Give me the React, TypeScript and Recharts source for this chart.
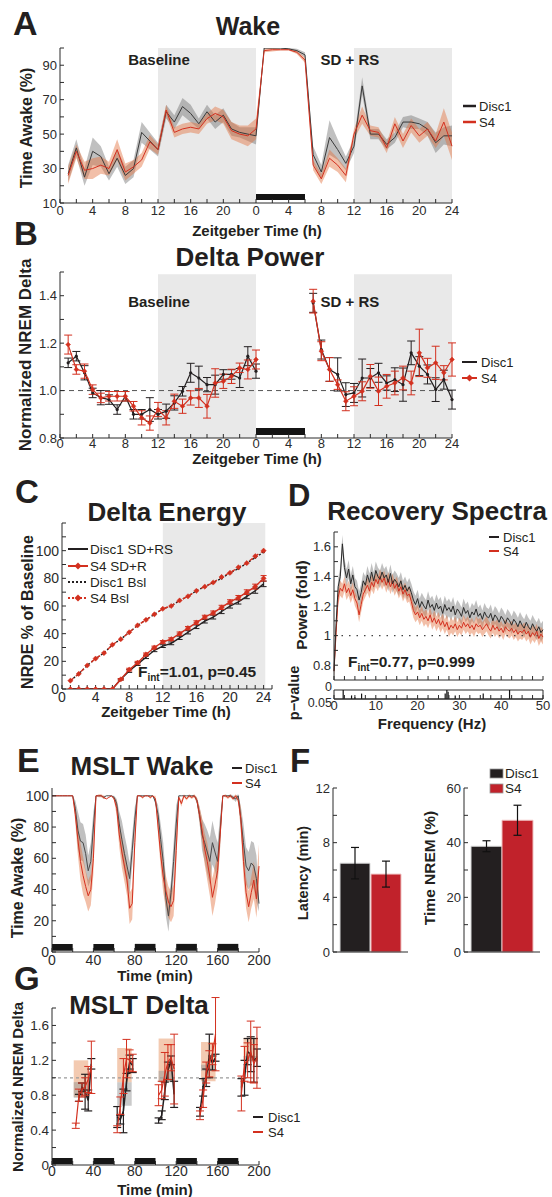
import React from 'react'
import {
	ComposedChart,
	BarChart,
	Line,
	Area,
	Bar,
	XAxis,
	YAxis,
	ReferenceArea,
	ReferenceLine,
	ErrorBar,
} from 'recharts'

const FONT = '"Liberation Sans", Arial, Helvetica, sans-serif'
const INK = '#231f20'
const RED = '#d3301f'
const BAR_RED = '#c1222b'
const GRAY_BAND = 'rgba(105,105,105,0.42)'
const RED_BAND = 'rgba(226,112,62,0.45)'
const SHADE = '#e9e9e9'

// ---------- A: Wake (% time awake per hour; baseline day, then SD + RS day)
const wakeDisc1 = [
	27, 42, 25, 40, 37, 27, 36, 26, 30, 51, 46, 41, 63, 57, 66, 62, 56, 63, 57, 61, 53, 51, 50, 49,
	100, 100, 100, 99.5, 98.5, 96, 38, 28, 48, 41, 33, 43, 78, 50, 50, 44, 48, 57, 57, 56, 53, 45, 49, 49,
]
const wakeDisc1Sem = [
	5, 5, 5, 8, 6, 4, 5, 5, 5, 6, 5, 4, 4, 4, 5, 5, 3, 4, 4, 4, 4, 3, 4, 5,
	0.5, 0.5, 0.5, 0.5, 1, 1.5, 5, 4, 10, 6, 4, 4, 5, 3, 3, 3, 3, 3, 4, 3, 4, 6, 5, 6,
]
const wakeS4 = [
	26, 40, 29, 30, 32, 30, 41, 28, 31, 35, 45.5, 41, 64, 51, 53, 54, 53, 59, 62, 60, 52, 50, 49, 53,
	98.5, 99, 99, 99, 97.5, 93, 32, 24, 36, 32, 26, 50, 61, 52, 51, 42, 56, 46, 55, 49, 53, 46, 57, 43,
]
const wakeS4Sem = [
	5, 4, 5, 6, 5, 4, 6, 5, 4, 4, 4, 3, 3, 3, 3, 3, 3, 3, 4, 4, 5, 5, 6, 6,
	1, 1, 0.5, 0.5, 1, 1.5, 3, 3, 5, 4, 4, 3, 5, 3, 3, 3, 4, 4, 4, 4, 4, 4, 8, 8,
]
const darkPeriods = [
	[12, 24],
	[36, 48],
]
const sdWindow = [24, 30]

// ---------- B: Delta power (h 1-24 baseline, h 31-48 recovery)
const deltaHours = [
	1, 2, 3, 4, 5, 6, 7, 8, 9, 10, 11, 12, 13, 14, 15, 16, 17, 18, 19, 20, 21, 22, 23, 24,
	31, 32, 33, 34, 35, 36, 37, 38, 39, 40, 41, 42, 43, 44, 45, 46, 47, 48,
]
const deltaDisc1 = [
	1.117, 1.145, 1.075, 0.99, 0.97, 0.962, 0.92, 0.976, 0.9, 0.9, 0.92, 0.9, 0.913, 0.948, 0.997, 1.075,
	1.053, 1.025, 1.025, 1.068, 1.068, 1.053, 1.145, 1.082,
	1.37, 1.173, 1.089, 1.068, 0.983, 0.99, 1.053, 1.053, 1.075, 1.032, 1.046, 1.025, 1.159, 1.103, 1.068,
	1.004, 1.046, 0.962,
]
const deltaDisc1Sem = [
	0.02, 0.02, 0.03, 0.02, 0.03, 0.02, 0.02, 0.02, 0.02, 0.02, 0.05, 0.02, 0.03, 0.03, 0.02, 0.04, 0.05,
	0.03, 0.04, 0.02, 0.02, 0.04, 0.04, 0.03,
	0.04, 0.04, 0.05, 0.07, 0.05, 0.04, 0.08, 0.04, 0.04, 0.03, 0.05, 0.07, 0.05, 0.04, 0.04, 0.05, 0.04,
	0.04,
]
const deltaS4 = [
	1.194, 1.089, 1.082, 1.004, 0.969, 0.976, 0.976, 0.976, 0.934, 0.885, 0.863, 0.92, 0.885, 0.955, 0.934,
	0.969, 0.969, 0.934, 1.032, 1.039, 1.06, 1.096, 1.089, 1.131,
	1.377, 1.166, 1.089, 1.025, 0.955, 0.976, 0.997, 1.06, 0.997, 1.018, 1.032, 1.053, 1.032, 1.159, 1.096,
	1.117, 1.075, 1.131,
]
const deltaS4Sem = [
	0.04, 0.02, 0.03, 0.02, 0.02, 0.02, 0.02, 0.02, 0.02, 0.03, 0.03, 0.03, 0.03, 0.03, 0.03, 0.03, 0.04,
	0.05, 0.06, 0.03, 0.03, 0.02, 0.04, 0.04,
	0.05, 0.04, 0.05, 0.02, 0.04, 0.04, 0.04, 0.05, 0.06, 0.05, 0.05, 0.05, 0.05, 0.1, 0.04, 0.07, 0.03,
	0.07,
]

// ---------- C: Delta energy (cumulative NRDE, % of baseline)
const energyHours = [1, 2, 3, 4, 5, 6, 7, 8, 9, 10, 11, 12, 13, 14, 15, 16, 17, 18, 19, 20, 21, 22, 23, 24]
const energyDisc1Sd = [0, 0, 0, 0, 0, 0, 7, 13, 18, 23, 28, 31, 33, 37, 41, 45, 49, 52, 56, 60, 63, 67, 71, 76]
const energyDisc1SdSem = [0, 0, 0, 0, 0, 0, 0.5, 1, 1, 1, 1, 1, 1, 1.2, 1.2, 1.3, 1.3, 1.4, 1.5, 1.5, 1.6, 1.7, 1.8, 2]
const energyS4Sd = [0, 0, 0, 0, 0, 0, 7, 14, 19, 25, 30, 34, 36, 40, 44, 48, 52, 55, 59, 63, 66, 70, 74, 80]
const energyS4SdSem = [0, 0, 0, 0, 0, 0, 0.5, 1, 1, 1, 1, 1, 1, 1.2, 1.2, 1.3, 1.3, 1.4, 1.5, 1.5, 1.6, 1.7, 1.8, 2]
const energyDisc1Bsl = [6, 11, 17, 22, 26, 32, 36, 41, 46, 50, 54, 58, 60, 64, 67, 71, 74, 77, 80, 84, 87, 91, 95, 99]
const energyS4Bsl = [6, 11, 17, 22, 26, 32, 36, 41, 46, 50, 54, 58, 60, 64, 67, 71, 74, 77, 81, 84, 88, 91, 96, 100]

// ---------- D: Recovery spectra (0-50 Hz, 0.5 Hz bins)
const spectraDisc1 = [
	0.76, 1.08, 1.33, 1.4, 1.62, 1.46, 1.39, 1.45, 1.35, 1.41,
	1.33, 1.31, 1.24, 1.29, 1.37, 1.34, 1.41, 1.36, 1.43, 1.37,
	1.44, 1.4, 1.38, 1.43, 1.39, 1.41, 1.36, 1.42, 1.35, 1.38,
	1.36, 1.33, 1.37, 1.31, 1.34, 1.3, 1.33, 1.29, 1.24, 1.21,
	1.25, 1.19, 1.23, 1.2, 1.18, 1.24, 1.19, 1.21, 1.17, 1.22,
	1.18, 1.2, 1.15, 1.21, 1.17, 1.19, 1.16, 1.2, 1.14, 1.18,
	1.16, 1.13, 1.19, 1.15, 1.17, 1.12, 1.16, 1.14, 1.18, 1.13,
	1.15, 1.11, 1.16, 1.13, 1.12, 1.15, 1.1, 1.14, 1.12, 1.09,
	1.13, 1.11, 1.08, 1.12, 1.1, 1.07, 1.11, 1.09, 1.06, 1.1,
	1.07, 1.05, 1.09, 1.06, 1.04, 1.08, 1.05, 1.03, 1.06, 1.02, 1.04,
]
const spectraS4 = [
	0.76, 1.02, 1.26, 1.32, 1.3, 1.35, 1.29, 1.32, 1.27, 1.31,
	1.25, 1.22, 1.14, 1.21, 1.28, 1.31, 1.34, 1.3, 1.36, 1.33,
	1.38, 1.35, 1.4, 1.36, 1.39, 1.34, 1.38, 1.33, 1.37, 1.32,
	1.35, 1.3, 1.33, 1.28, 1.31, 1.27, 1.28, 1.23, 1.17, 1.14,
	1.16, 1.12, 1.15, 1.11, 1.13, 1.1, 1.14, 1.09, 1.12, 1.08,
	1.11, 1.07, 1.1, 1.06, 1.09, 1.04, 1.07, 1.05, 1.08, 1.04,
	1.07, 1.05, 1.09, 1.06, 1.08, 1.05, 1.07, 1.04, 1.08, 1.06,
	1.07, 1.04, 1.06, 1.08, 1.05, 1.03, 1.07, 1.04, 1.06, 1.03,
	1.05, 1.02, 1.06, 1.04, 1.03, 1.05, 1.02, 1.04, 1.01, 1.03,
	1.02, 1.04, 1.01, 1.03, 0.99, 1.02, 1.0, 1.03, 0.98, 1.01, 0.99,
]
const spectraDisc1Sem = 0.06
const spectraS4Sem = 0.05
const pFreqs = [2.2, 4.2, 5.0, 6.6, 26.6, 27.0, 27.3, 29.0, 35.7, 42.0]
const pValues = [0.0, 0.03, 0.04, 0.02, 0.02, 0.0, 0.01, 0.03, 0.02, 0.0]

// ---------- E: MSLT wake (2.5 min bins, 0-200 min)
const msltDisc1 = [
	100, 100, 100, 100, 100, 100, 100, 100, 100,
	92, 78, 71, 70, 63, 52, 58, 80,
	100, 100, 100, 99, 100, 100, 100, 99,
	95, 82, 72, 63, 55, 47, 65, 85,
	100, 100, 100, 100, 100, 100, 100, 96,
	88, 72, 58, 35, 23, 38, 58, 82,
	100, 100, 100, 100, 100, 100, 100, 97,
	88, 75, 70, 64, 58, 70, 64, 58, 78,
	100, 100, 100, 100, 99, 98, 100,
	85, 70, 55, 52, 57, 55, 47, 31,
]
const msltDisc1Sem = [
	0, 0, 0, 0, 0, 0, 0, 0, 0,
	5, 12, 12, 12, 12, 10, 12, 10,
	0, 0, 0, 1, 0, 0, 0, 1,
	3, 8, 12, 12, 12, 10, 10, 8,
	0, 0, 0, 0, 0, 0, 0, 2,
	6, 10, 12, 12, 10, 8, 12, 12,
	0, 0, 0, 0, 0, 0, 0, 2,
	5, 10, 12, 14, 15, 14, 12, 12, 10,
	0, 0, 0, 1, 1, 2, 1,
	8, 12, 12, 12, 14, 15, 15, 5,
]
const msltS4 = [
	100, 100, 100, 100, 100, 100, 100, 100, 100,
	88, 72, 58, 49, 42, 36, 40, 60,
	100, 100, 100, 99, 98, 99, 100, 98,
	92, 75, 64, 55, 46, 28, 31, 70,
	100, 100, 99, 100, 100, 99, 100, 98,
	80, 62, 48, 39, 32, 29, 33, 65,
	99, 95, 100, 98, 100, 99, 100, 97,
	88, 78, 66, 58, 48, 35, 43, 52, 75,
	100, 100, 99, 100, 98, 100, 97,
	85, 58, 38, 29, 38, 46, 34, 55,
]
const msltS4Sem = [
	0, 0, 0, 0, 0, 0, 0, 0, 0,
	5, 10, 12, 12, 10, 10, 10, 10,
	0, 1, 1, 1, 0, 0, 0, 1,
	5, 8, 10, 10, 10, 10, 10, 8,
	0, 0, 1, 0, 0, 1, 0, 2,
	5, 8, 10, 10, 10, 10, 10, 10,
	1, 2, 1, 1, 1, 1, 1, 2,
	5, 8, 10, 12, 12, 12, 12, 10, 8,
	0, 1, 1, 1, 1, 1, 2,
	8, 10, 10, 10, 10, 12, 12, 14,
]
const msltWakeWindows = [
	[0, 20],
	[40, 60],
	[80, 100],
	[120, 140],
	[160, 180],
]

// ---------- F: latency and NREM time (Disc1, S4)
const latencyMin = [6.5, 5.7]
const latencySem = [1.15, 0.95]
const nremPct = [38.7, 48.2]
const nremSem = [2.0, 5.5]

// ---------- G: MSLT delta, 6 points per nap
const napStarts = [20, 60, 100, 140, 180]
const napOffsets = [3, 6, 9, 12, 15, 18]
const gS4 = [
	0.45, 0.8, 0.86, 0.9, 0.98, 1.12,
	0.41, 0.68, 1.02, 1.22, 1.2, 1.17,
	0.8, 0.86, 1.04, 1.18, 1.23, 1.1,
	0.57, 0.76, 1.06, 1.16, 1.27, 1.5,
	0.82, 1.16, 1.2, 1.3, 1.16, 1.23,
]
const gS4Sem = [
	0.03, 0.07, 0.08, 0.1, 0.15, 0.3,
	0.04, 0.1, 0.2, 0.22, 0.12, 0.1,
	0.12, 0.1, 0.25, 0.2, 0.15, 0.4,
	0.05, 0.1, 0.12, 0.15, 0.12, 0.42,
	0.2, 0.2, 0.2, 0.35, 0.22, 0.35,
]
const gDisc1 = [
	null, 0.77, 0.89, 0.84, 0.74, 1.16,
	0.55, 0.52, 0.62, 0.95, 1.18, 1.14,
	0.51, 0.57, 0.85, 1.08, 1.2, 0.81,
	0.61, 0.89, 1.0, 1.25, 1.17, 1.23,
	0.89, 1.0, 1.3, 1.27, 1.2, 1.23,
]
const gDisc1Sem = [
	0, 0.04, 0.05, 0.2, 0.12, 0.06,
	0.12, 0.05, 0.25, 0.1, 0.08, 0.08,
	0.03, 0.05, 0.1, 0.1, 0.05, 0.15,
	0.05, 0.1, 0.1, 0.25, 0.08, 0.04,
	0.1, 0.2, 0.15, 0.2, 0.25, 0.1,
]
const napBoxStart = [21, 63, 103, 144, 185]
const napBoxEnd = [35, 77, 117, 158, 199]
const napBoxS4 = [
	[0.78, 1.2],
	[0.95, 1.34],
	[0.95, 1.45],
	[0.96, 1.41],
	[1.19, 1.46],
]
const napBoxDisc1 = [
	[0.77, 0.95],
	[0.68, 0.95],
	[0.95, 1.08],
	[1.08, 1.15],
	[1.19, 1.25],
]

// ---------- rows
const band = (v: number, s: number) => [v - s, v + s]

const wakeRows = wakeDisc1.map((v, i) => ({
	h: i + 1,
	d1: v,
	s4: wakeS4[i],
	d1Band: band(v, wakeDisc1Sem[i]),
	s4Band: band(wakeS4[i], wakeS4Sem[i]),
}))

const deltaRows: any[] = deltaHours.map((h, i) => ({
	h,
	d1: deltaDisc1[i],
	d1e: deltaDisc1Sem[i],
	s4: deltaS4[i],
	s4e: deltaS4Sem[i],
}))
deltaRows.splice(24, 0, { h: 27 })

const energyRows = energyHours.map((h, i) => ({
	h,
	d1: energyDisc1Sd[i],
	d1e: energyDisc1SdSem[i],
	s4: energyS4Sd[i],
	s4e: energyS4SdSem[i],
	d1b: energyDisc1Bsl[i],
	s4b: energyS4Bsl[i],
}))

const spectraRows = spectraDisc1.map((v, i) => ({
	f: i * 0.5,
	d1: v,
	s4: spectraS4[i],
	d1Band: band(v, spectraDisc1Sem),
	s4Band: band(spectraS4[i], spectraS4Sem),
}))

const msltRows = msltDisc1.map((v, i) => ({
	t: i * 2.5,
	d1: v,
	s4: msltS4[i],
	d1Band: band(v, msltDisc1Sem[i]),
	s4Band: band(msltS4[i], msltS4Sem[i]),
}))

const gRows: any[] = []
napStarts.forEach((start, n) => {
	napOffsets.forEach((o, j) => {
		const k = n * napOffsets.length + j
		gRows.push({ t: start + o, s4: gS4[k], s4e: gS4Sem[k], d1: gDisc1[k], d1e: gDisc1Sem[k] })
	})
	gRows.push({ t: start + 19.5 })
})

const latencyRows = [{ name: 'lat', d1: latencyMin[0], d1e: latencySem[0], s4: latencyMin[1], s4e: latencySem[1] }]
const nremRows = [{ name: 'nrem', d1: nremPct[0], d1e: nremSem[0], s4: nremPct[1], s4e: nremSem[1] }]

// ---------- helpers
const steps = (a: number, b: number, s: number) => {
	const out: number[] = []
	for (let i = 0; a + i * s <= b + 1e-9; i++) out.push(Math.round((a + i * s) * 1000) / 1000)
	return out
}
const near = (v: number, list: number[]) => list.some((t) => Math.abs(t - v) < 1e-6)

const ax = (size: number) => ({
	stroke: '#2b2b2b',
	tickSize: -4,
	tickMargin: 7,
	interval: 0 as const,
	tick: { fontSize: size, fill: '#2b2b2b', fontFamily: FONT },
})

const diamond = (color: string, r: number) => (p: any) => {
	const { cx, cy, index } = p
	if (!Number.isFinite(cx) || !Number.isFinite(cy) || p.value == null)
		return <g key={`dm${index}`} />
	return (
		<path
			key={`dm${index}`}
			d={`M${cx},${cy - r}L${cx + r},${cy}L${cx},${cy + r}L${cx - r},${cy}Z`}
			fill={color}
			stroke={color}
			strokeWidth={0.5}
		/>
	)
}
const roundDot = (color: string, r: number) => (p: any) => {
	const { cx, cy, index } = p
	if (!Number.isFinite(cx) || !Number.isFinite(cy) || p.value == null)
		return <g key={`rd${index}`} />
	return <circle key={`rd${index}`} cx={cx} cy={cy} r={r} fill={color} />
}

// p-value strip: nudge the two labels apart, as in the figure
const stripTick = (p: any) => {
	const v = p.payload.value
	return (
		<text
			x={p.x}
			y={p.y + (v === 0 ? -3.5 : 3.5)}
			textAnchor="end"
			dominantBaseline="central"
			fontSize={12.5}
			fill="#2b2b2b"
			fontFamily={FONT}
		>
			{v === 0 ? '0' : '0.05'}
		</text>
	)
}

const dayTick = (v: number) => (v % 4 !== 0 ? '' : v === 48 ? '24' : String(v % 24))

type TxtProps = {
	x: number
	y: number
	size: number
	bold?: boolean
	anchor?: 'start' | 'middle' | 'end'
	rotate?: boolean
	fill?: string
	children: React.ReactNode
}
const Txt = ({ x, y, size, bold = true, anchor = 'middle', rotate = false, fill = INK, children }: TxtProps) => (
	<text
		x={rotate ? 0 : x}
		y={rotate ? 0 : y}
		transform={rotate ? `translate(${x},${y}) rotate(-90)` : undefined}
		fontSize={size}
		fontWeight={bold ? 700 : 400}
		textAnchor={anchor}
		fill={fill}
		fontFamily={FONT}
	>
		{children}
	</text>
)

const Fint = ({ x, y, rest }: { x: number; y: number; rest: string }) => (
	<text x={x} y={y} fontSize={15.5} fontWeight={700} fill={INK} fontFamily={FONT}>
		<tspan>F</tspan>
		<tspan fontSize={10} dy={4}>
			int
		</tspan>
		<tspan dy={-4}>{rest}</tspan>
	</text>
)

const Abs = ({ left, top, children }: { left: number; top: number; children: React.ReactNode }) => (
	<div style={{ position: 'absolute', left, top }}>{children}</div>
)

const App = () => {
	return (
		<div
			style={{
				position: 'relative',
				width: 552,
				height: 1197,
				background: '#fff',
				fontFamily: FONT,
				overflow: 'hidden',
			}}
		>
			<style>{'body{margin:0}'}</style>

			{/* A: Wake */}
			<Abs left={0} top={0}>
				<ComposedChart width={552} height={222} data={wakeRows} margin={{ top: 48, right: 100, bottom: 0, left: 0 }}>
					{darkPeriods.map(([a, b]) => (
						<ReferenceArea key={`a${a}`} x1={a} x2={b} fill={SHADE} fillOpacity={1} stroke="none" />
					))}
					<ReferenceArea x1={sdWindow[0]} x2={sdWindow[1]} y1={11.7} y2={15.2} fill="#141414" fillOpacity={1} stroke="none" />
					<XAxis
						type="number"
						dataKey="h"
						domain={[0, 48]}
						ticks={steps(0, 48, 2)}
						tickFormatter={dayTick}
						height={19}
						{...ax(13)}
					/>
					<YAxis
						type="number"
						domain={[10, 100]}
						allowDataOverflow
						ticks={steps(10, 100, 10)}
						tickFormatter={(v: number) => (near(v, [10, 30, 50, 70, 90]) ? String(v) : '')}
						width={60}
						{...ax(13)}
					/>
					<Area dataKey="d1Band" stroke="none" fill={GRAY_BAND} fillOpacity={1} isAnimationActive={false} />
					<Area dataKey="s4Band" stroke="none" fill={RED_BAND} fillOpacity={1} isAnimationActive={false} />
					<Line dataKey="d1" stroke="#3a3a3a" strokeWidth={1} dot={false} isAnimationActive={false} />
					<Line dataKey="s4" stroke={RED} strokeWidth={1} dot={false} isAnimationActive={false} />
				</ComposedChart>
			</Abs>

			{/* B: Delta power */}
			<Abs left={0} top={222}>
				<ComposedChart width={552} height={234} data={deltaRows} margin={{ top: 50, right: 100, bottom: 0, left: 0 }}>
					{darkPeriods.map(([a, b]) => (
						<ReferenceArea key={`b${a}`} x1={a} x2={b} y1={0.8} y2={1.49} fill={SHADE} fillOpacity={1} stroke="none" />
					))}
					<ReferenceArea x1={sdWindow[0]} x2={sdWindow[1]} y1={0.813} y2={0.842} fill="#141414" fillOpacity={1} stroke="none" />
					<ReferenceLine y={1} stroke="#555" strokeDasharray="5 4" strokeWidth={1} />
					<XAxis
						type="number"
						dataKey="h"
						domain={[0, 48]}
						ticks={steps(0, 48, 2)}
						tickFormatter={dayTick}
						height={18}
						{...ax(13)}
						tickMargin={5}
					/>
					<YAxis
						type="number"
						domain={[0.8, 1.5]}
						allowDataOverflow
						ticks={steps(0.8, 1.5, 0.1)}
						tickFormatter={(v: number) => (near(v, [0.8, 1, 1.2, 1.4]) ? v.toFixed(1) : '')}
						width={60}
						{...ax(13)}
					/>
					<Line dataKey="d1" stroke={INK} strokeWidth={1.2} dot={roundDot(INK, 1.6)} isAnimationActive={false}>
						<ErrorBar dataKey="d1e" width={4} stroke={INK} strokeWidth={1} isAnimationActive={false} />
					</Line>
					<Line dataKey="s4" stroke={RED} strokeWidth={1.2} dot={diamond(RED, 2.4)} isAnimationActive={false}>
						<ErrorBar dataKey="s4e" width={4} stroke={RED} strokeWidth={1} isAnimationActive={false} />
					</Line>
				</ComposedChart>
			</Abs>

			{/* C: Delta energy */}
			<Abs left={0} top={500}>
				<ComposedChart width={285} height={215} data={energyRows} margin={{ top: 23, right: 13, bottom: 0, left: 0 }}>
					<ReferenceArea x1={12} x2={24.2} y1={0} y2={120} fill={SHADE} fillOpacity={1} stroke="none" />
					<XAxis
						type="number"
						dataKey="h"
						domain={[0, 25]}
						ticks={steps(0, 25, 1)}
						tickFormatter={(v: number) => (v % 4 === 0 ? String(v) : '')}
						height={26}
						{...ax(14)}
					/>
					<YAxis
						type="number"
						domain={[0, 120]}
						allowDataOverflow
						ticks={steps(0, 120, 10)}
						tickFormatter={(v: number) => (v % 20 === 0 && v <= 100 ? String(v) : '')}
						width={62}
						{...ax(14)}
					/>
					<Line dataKey="d1b" stroke={INK} strokeWidth={1.4} strokeDasharray="2 2" dot={roundDot(INK, 1.3)} isAnimationActive={false} />
					<Line dataKey="s4b" stroke={RED} strokeWidth={1.4} strokeDasharray="4 3" dot={diamond(RED, 2.6)} isAnimationActive={false} />
					<Line dataKey="d1" stroke={INK} strokeWidth={1.4} dot={false} isAnimationActive={false}>
						<ErrorBar dataKey="d1e" width={3} stroke={INK} strokeWidth={1} isAnimationActive={false} />
					</Line>
					<Line dataKey="s4" stroke={RED} strokeWidth={1.4} dot={diamond(RED, 2.6)} isAnimationActive={false}>
						<ErrorBar dataKey="s4e" width={3} stroke={RED} strokeWidth={1} isAnimationActive={false} />
					</Line>
				</ComposedChart>
			</Abs>

			{/* D: Recovery spectra */}
			<Abs left={285} top={500}>
				<ComposedChart width={267} height={185} data={spectraRows} margin={{ top: 32, right: 9, bottom: 0, left: 0 }}>
					<ReferenceLine y={1} stroke="#444" strokeDasharray="1.5 6" strokeWidth={1.2} />
					<XAxis
						type="number"
						dataKey="f"
						domain={[0, 50]}
						ticks={steps(0, 50, 2.5)}
						tickFormatter={() => ''}
						height={5}
						{...ax(13)}
					/>
					<YAxis
						type="number"
						domain={[0.7, 1.7]}
						allowDataOverflow
						ticks={steps(0.8, 1.7, 0.1)}
						tickFormatter={(v: number) =>
							near(v, [1]) ? '1' : near(v, [0.8, 1.2, 1.4, 1.6]) ? v.toFixed(1) : ''
						}
						width={49}
						{...ax(13)}
					/>
					<Area dataKey="d1Band" stroke="none" fill={GRAY_BAND} fillOpacity={1} isAnimationActive={false} />
					<Area dataKey="s4Band" stroke="none" fill={RED_BAND} fillOpacity={1} isAnimationActive={false} />
					<Line dataKey="s4" stroke={RED} strokeWidth={1} dot={false} isAnimationActive={false} />
					<Line dataKey="d1" stroke="#2a2a2a" strokeWidth={1} dot={false} isAnimationActive={false} />
				</ComposedChart>
			</Abs>
			<Abs left={285} top={675}>
				<ComposedChart width={267} height={42} data={spectraRows} margin={{ top: 15, right: 9, bottom: 0, left: 0 }}>
					<XAxis
						type="number"
						dataKey="f"
						domain={[0, 50]}
						ticks={steps(0, 50, 2.5)}
						tickFormatter={(v: number) => (v % 10 === 0 ? String(v) : '')}
						height={18}
						{...ax(13)}
						tickMargin={6}
					/>
					<YAxis
						type="number"
						reversed
						domain={[0, 0.05]}
						allowDataOverflow
						ticks={[0, 0.05]}
						width={49}
						stroke="#2b2b2b"
						interval={0}
						axisLine={false}
						tickLine={false}
						tickSize={0}
						tickMargin={2}
						tick={stripTick}
					/>
					<ReferenceArea x1={0} x2={50} y1={0} y2={0.05} fill="none" stroke="#2b2b2b" strokeWidth={1} />
					{pFreqs.map((f, i) => (
						<ReferenceLine
							key={`p${i}`}
							segment={[
								{ x: f, y: 0.05 },
								{ x: f, y: pValues[i] },
							]}
							stroke="#111"
							strokeWidth={1.2}
						/>
					))}
				</ComposedChart>
			</Abs>

			{/* E: MSLT wake */}
			<Abs left={0} top={740}>
				<ComposedChart width={290} height={230} data={msltRows} margin={{ top: 48, right: 31, bottom: 0, left: 0 }}>
					{msltWakeWindows.map(([a, b]) => (
						<ReferenceArea key={`e${a}`} x1={a} x2={b} y1={0.8} y2={5.2} fill="#161616" fillOpacity={1} stroke="none" />
					))}
					<XAxis
						type="number"
						dataKey="t"
						domain={[0, 200]}
						ticks={steps(0, 200, 20)}
						tickFormatter={(v: number) => (v % 40 === 0 ? String(v) : '')}
						height={18}
						{...ax(14)}
					/>
					<YAxis
						type="number"
						domain={[0, 105]}
						allowDataOverflow
						ticks={steps(0, 100, 10)}
						tickFormatter={(v: number) => (v % 20 === 0 ? String(v) : '')}
						width={52}
						{...ax(14)}
					/>
					<Area dataKey="d1Band" stroke="none" fill={GRAY_BAND} fillOpacity={1} isAnimationActive={false} />
					<Area dataKey="s4Band" stroke="none" fill={RED_BAND} fillOpacity={1} isAnimationActive={false} />
					<Line dataKey="d1" stroke="#4a4a4a" strokeWidth={1} dot={false} isAnimationActive={false} />
					<Line dataKey="s4" stroke={RED} strokeWidth={1} dot={false} isAnimationActive={false} />
				</ComposedChart>
			</Abs>

			{/* F: latency and NREM */}
			<Abs left={290} top={770}>
				<BarChart width={130} height={198} data={latencyRows} barGap={1} margin={{ top: 18, right: 12, bottom: 0, left: 0 }}>
					<XAxis dataKey="name" tick={false} tickLine={false} height={16} stroke="#2b2b2b" />
					<YAxis
						type="number"
						domain={[0, 12]}
						ticks={steps(0, 12, 2)}
						tickFormatter={(v: number) => (v % 4 === 0 ? String(v) : '')}
						width={43}
						{...ax(13)}
					/>
					<Bar dataKey="d1" barSize={30} fill={INK} stroke="#d9d9d9" strokeWidth={1} isAnimationActive={false}>
						<ErrorBar dataKey="d1e" width={4} stroke="#111" strokeWidth={1.2} isAnimationActive={false} />
					</Bar>
					<Bar dataKey="s4" barSize={30} fill={BAR_RED} stroke="#f0c0c0" strokeWidth={1} isAnimationActive={false}>
						<ErrorBar dataKey="s4e" width={4} stroke="#111" strokeWidth={1.2} isAnimationActive={false} />
					</Bar>
				</BarChart>
			</Abs>
			<Abs left={420} top={770}>
				<BarChart width={132} height={198} data={nremRows} barGap={0} margin={{ top: 18, right: 12, bottom: 0, left: 0 }}>
					<XAxis dataKey="name" tick={false} tickLine={false} height={16} stroke="#2b2b2b" />
					<YAxis
						type="number"
						domain={[0, 60]}
						ticks={steps(0, 60, 10)}
						tickFormatter={(v: number) => (v % 20 === 0 ? String(v) : '')}
						width={44}
						{...ax(13)}
					/>
					<Bar dataKey="d1" barSize={31} fill={INK} stroke="#d9d9d9" strokeWidth={1} isAnimationActive={false}>
						<ErrorBar dataKey="d1e" width={4} stroke="#111" strokeWidth={1.2} isAnimationActive={false} />
					</Bar>
					<Bar dataKey="s4" barSize={31} fill={BAR_RED} stroke="#f0c0c0" strokeWidth={1} isAnimationActive={false}>
						<ErrorBar dataKey="s4e" width={4} stroke="#111" strokeWidth={1.2} isAnimationActive={false} />
					</Bar>
				</BarChart>
			</Abs>

			{/* G: MSLT delta */}
			<Abs left={0} top={990}>
				<ComposedChart width={290} height={192} data={gRows} margin={{ top: 18, right: 31, bottom: 0, left: 0 }}>
					{napBoxStart.map((a, i) => (
						<ReferenceArea
							key={`gs${i}`}
							x1={a}
							x2={napBoxEnd[i]}
							y1={napBoxS4[i][0]}
							y2={napBoxS4[i][1]}
							fill="rgba(232,150,100,0.5)"
							fillOpacity={1}
							stroke="none"
						/>
					))}
					{napBoxStart.map((a, i) => (
						<ReferenceArea
							key={`gd${i}`}
							x1={a}
							x2={napBoxEnd[i]}
							y1={napBoxDisc1[i][0]}
							y2={napBoxDisc1[i][1]}
							fill="rgba(150,150,150,0.5)"
							fillOpacity={1}
							stroke="none"
						/>
					))}
					{msltWakeWindows.map(([a, b]) => (
						<ReferenceArea key={`g${a}`} x1={a} x2={b} y1={0.01} y2={0.08} fill="#161616" fillOpacity={1} stroke="none" />
					))}
					<ReferenceLine y={1} stroke="#9a9a9a" strokeDasharray="3 3" strokeWidth={1.2} />
					<XAxis
						type="number"
						dataKey="t"
						domain={[0, 200]}
						ticks={steps(0, 200, 20)}
						tickFormatter={(v: number) => (v % 40 === 0 ? String(v) : '')}
						height={17}
						{...ax(14)}
						tickMargin={5}
					/>
					<YAxis
						type="number"
						domain={[0, 1.8]}
						allowDataOverflow
						ticks={steps(0, 1.8, 0.2)}
						tickFormatter={(v: number) =>
							v === 0 ? '0' : near(v, [0.4, 0.8, 1.2, 1.6]) ? v.toFixed(1) : ''
						}
						width={52}
						{...ax(13.5)}
					/>
					<Line dataKey="d1" stroke={INK} strokeWidth={1.5} dot={false} isAnimationActive={false}>
						<ErrorBar dataKey="d1e" width={4} stroke={INK} strokeWidth={1.2} isAnimationActive={false} />
					</Line>
					<Line dataKey="s4" stroke={RED} strokeWidth={1.2} dot={false} isAnimationActive={false}>
						<ErrorBar dataKey="s4e" width={4} stroke={RED} strokeWidth={1} isAnimationActive={false} />
					</Line>
				</ComposedChart>
			</Abs>

			{/* text overlay */}
			<svg
				width={552}
				height={1197}
				style={{ position: 'absolute', left: 0, top: 0, pointerEvents: 'none' }}
			>
				{/* A */}
				<Txt x={13} y={35} size={34} anchor="start">A</Txt>
				<Txt x={248} y={35} size={25}>Wake</Txt>
				<Txt x={159} y={65} size={15}>Baseline</Txt>
				<Txt x={350} y={65} size={15}>SD + RS</Txt>
				<Txt x={257} y={236} size={15}>Zeitgeber Time (h)</Txt>
				<Txt x={32} y={128} size={16} rotate>Time Awake (%)</Txt>
				<line x1={463} x2={476} y1={106} y2={106} stroke={INK} strokeWidth={2.5} />
				<line x1={463} x2={476} y1={122} y2={122} stroke={RED} strokeWidth={2.5} />
				<Txt x={479} y={110.5} size={13} bold={false} anchor="start">Disc1</Txt>
				<Txt x={479} y={126.5} size={13} bold={false} anchor="start">S4</Txt>

				{/* B */}
				<Txt x={14} y={245} size={33} anchor="start">B</Txt>
				<Txt x={250} y={266} size={26}>Delta Power</Txt>
				<Txt x={159} y={307} size={15}>Baseline</Txt>
				<Txt x={350} y={307} size={15}>SD + RS</Txt>
				<Txt x={257} y={464} size={15}>Zeitgeber Time (h)</Txt>
				<Txt x={31} y={355} size={17} rotate>Normalized NREM Delta</Txt>
				<line x1={462} x2={477} y1={362} y2={362} stroke={INK} strokeWidth={2} />
				<line x1={462} x2={477} y1={378} y2={378} stroke={RED} strokeWidth={2} />
				<path d="M469.5,374.5L473,378L469.5,381.5L466,378Z" fill={RED} />
				<Txt x={481} y={366.5} size={13} bold={false} anchor="start">Disc1</Txt>
				<Txt x={481} y={382.5} size={13} bold={false} anchor="start">S4</Txt>

				{/* C */}
				<Txt x={15} y={503} size={33} anchor="start">C</Txt>
				<Txt x={167} y={521} size={26}>Delta Energy</Txt>
				<Txt x={166} y={717} size={15}>Zeitgeber Time (h)</Txt>
				<Txt x={33} y={612} size={16} rotate>NRDE % of Baseline</Txt>
				<line x1={68} x2={88} y1={549} y2={549} stroke={INK} strokeWidth={2} />
				<line x1={68} x2={88} y1={566} y2={566} stroke={RED} strokeWidth={2} />
				<path d="M78,562.5L81.5,566L78,569.5L74.5,566Z" fill={RED} />
				<line x1={68} x2={88} y1={582} y2={582} stroke={INK} strokeWidth={2} strokeDasharray="2 2" />
				<line x1={68} x2={88} y1={598} y2={598} stroke={RED} strokeWidth={2} strokeDasharray="2 2" />
				<path d="M78,594.5L81.5,598L78,601.5L74.5,598Z" fill={RED} />
				<Txt x={90} y={553.5} size={13.5} bold={false} anchor="start">Disc1 SD+RS</Txt>
				<Txt x={90} y={570.5} size={13.5} bold={false} anchor="start">S4 SD+R</Txt>
				<Txt x={90} y={586.5} size={13.5} bold={false} anchor="start">Disc1 Bsl</Txt>
				<Txt x={90} y={602.5} size={13.5} bold={false} anchor="start">S4 Bsl</Txt>
				<Fint x={138} y={677} rest="=1.01, p=0.45" />

				{/* D */}
				<Txt x={288} y={506} size={31} anchor="start">D</Txt>
				<Txt x={437} y={520} size={26}>Recovery Spectra</Txt>
				<Txt x={307} y={605} size={15.5} rotate>Power (fold)</Txt>
				<Txt x={299} y={693} size={14.5} rotate>p−value</Txt>
				<Txt x={432} y={729} size={15}>Frequency (Hz)</Txt>
				<line x1={489} x2={499} y1={537} y2={537} stroke={INK} strokeWidth={2} />
				<line x1={489} x2={499} y1={551} y2={551} stroke={RED} strokeWidth={2} />
				<Txt x={503} y={541.5} size={13} bold={false} anchor="start">Disc1</Txt>
				<Txt x={503} y={555.5} size={13} bold={false} anchor="start">S4</Txt>
				<Fint x={348} y={667} rest="=0.77, p=0.999" />

				{/* E */}
				<Txt x={17} y={772} size={34} anchor="start">E</Txt>
				<Txt x={142} y={775} size={26}>MSLT Wake</Txt>
				<Txt x={155} y={981} size={15}>Time (min)</Txt>
				<Txt x={23} y={878} size={16} rotate>Time Awake (%)</Txt>
				<line x1={232} x2={242} y1={768} y2={768} stroke={INK} strokeWidth={2} />
				<line x1={232} x2={242} y1={783} y2={783} stroke={RED} strokeWidth={2} />
				<Txt x={245} y={772.5} size={13} bold={false} anchor="start">Disc1</Txt>
				<Txt x={245} y={787.5} size={13} bold={false} anchor="start">S4</Txt>

				{/* F */}
				<Txt x={290} y={772} size={33} anchor="start">F</Txt>
				<rect x={490} y={769} width={13} height={9} fill={INK} stroke="#999" strokeWidth={0.8} />
				<rect x={490} y={784} width={13} height={9} fill={BAR_RED} stroke="#999" strokeWidth={0.8} />
				<Txt x={505} y={777.5} size={13.5} bold={false} anchor="start">Disc1</Txt>
				<Txt x={505} y={792.5} size={13.5} bold={false} anchor="start">S4</Txt>
				<Txt x={308} y={873} size={14.5} rotate>Latency (min)</Txt>
				<Txt x={435} y={868} size={15.5} rotate>Time NREM (%)</Txt>

				{/* G */}
				<Txt x={14} y={990} size={33} anchor="start">G</Txt>
				<Txt x={139} y={1014} size={26}>MSLT Delta</Txt>
				<Txt x={155} y={1195} size={15}>Time (min)</Txt>
				<Txt x={23} y={1087} size={15} rotate>Normalized NREM Delta</Txt>
				<line x1={253} x2={263} y1={1117} y2={1117} stroke={INK} strokeWidth={2} />
				<line x1={253} x2={263} y1={1132} y2={1132} stroke={RED} strokeWidth={2} />
				<Txt x={268} y={1121.5} size={13} bold={false} anchor="start">Disc1</Txt>
				<Txt x={268} y={1136.5} size={13} bold={false} anchor="start">S4</Txt>
			</svg>
		</div>
	)
}

export default App
